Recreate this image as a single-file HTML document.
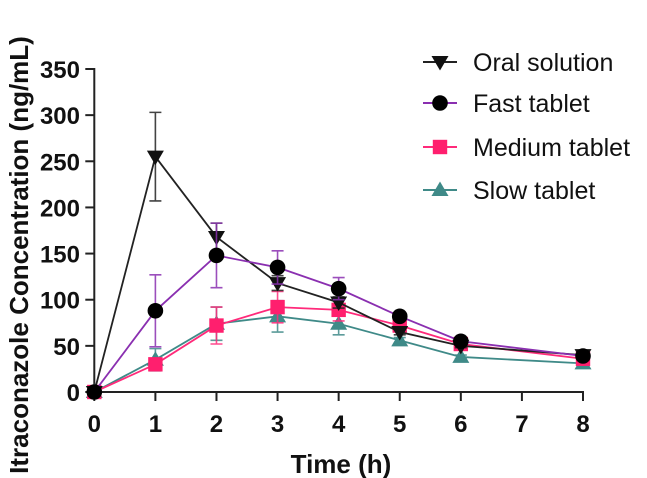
<!DOCTYPE html>
<html><head><meta charset="utf-8"><style>
body{margin:0;background:#fff;}
svg{display:block;font-family:"Liberation Sans",Arial,sans-serif;}
</style></head><body>
<svg id="chart" width="647" height="478" viewBox="0 0 647 478">
<g id="axes"></g><g id="series"></g><g id="legend"></g>
</svg>
<script>
const xTicks=[0,1,2,3,4,5,6,7,8];
const yTicks=[0,50,100,150,200,250,300,350];
const times=[0,1,2,3,4,5,6,8];
const seriesNames=["Oral solution","Fast tablet","Medium tablet","Slow tablet"];
const oralVals=[0,255,168,118,97,65,50,40];
const oralErr=[0,48,15,8,6,3,2,3];
const fastVals=[0,88,148,135,112,82,55,39];
const fastErr=[0,39,35,18,12,4,2,2];
const mediumVals=[0,30,72,92,89,72,52,36];
const mediumErr=[0,6,20,17,12,6,2,2];
const slowVals=[0,35,74,82,74,56,38,31];
const slowErr=[0,12,18,17,12,3,2,2];

const NS="http://www.w3.org/2000/svg";
const X0=94.3,X1=583,Y0=392,Y1=69;
const sx=v=>X0+(v-0)/(8-0)*(X1-X0);
const sy=v=>Y0-(v/350)*(Y0-Y1);
function mk(tag,attrs,parent){const e=document.createElementNS(NS,tag);for(const k in attrs)e.setAttribute(k,attrs[k]);parent.appendChild(e);return e;}
const axes=document.getElementById('axes'),ser=document.getElementById('series'),leg=document.getElementById('legend');

let e=mk('line',{x1:X0,y1:Y1-1,x2:X0,y2:Y0+1,stroke:'#222','stroke-width':2},axes);


e=mk('line',{x1:X0-1,y1:Y0,x2:X1+1,y2:Y0,stroke:'#222','stroke-width':2},axes);


xTicks.forEach(t=>{
  mk('line',{x1:sx(t),y1:Y0,x2:sx(t),y2:Y0+9,stroke:'#222','stroke-width':2},axes);
  const tx=mk('text',{x:sx(t),y:432,'text-anchor':'middle','font-size':24,'font-weight':'bold',fill:'#111'},axes);
  tx.textContent=t;
  
  
});
yTicks.forEach(t=>{
  mk('line',{x1:X0-9,y1:sy(t),x2:X0,y2:sy(t),stroke:'#222','stroke-width':2},axes);
  const tx=mk('text',{x:80,y:sy(t)+9,'text-anchor':'end','font-size':24,'font-weight':'bold',fill:'#111'},axes);
  tx.textContent=t;
  
  
});
e=mk('text',{x:341,y:473,'text-anchor':'middle','font-size':26,'font-weight':'bold',fill:'#111'},axes);
e.textContent='Time (h)';


e=mk('text',{x:0,y:0,'text-anchor':'middle','font-size':26,'font-weight':'bold',fill:'#111',transform:'translate(28,255) rotate(-90)'},axes);
e.textContent='Itraconazole Concentration (ng/mL)';



const allVals=[oralVals,fastVals,mediumVals,slowVals];
const allErr=[oralErr,fastErr,mediumErr,slowErr];
const lineColors=["#222","#8a2fb0","#ff2a7a","#3f8a88"];
const markColors=["#111","#000","#ff1f6e","#3f8a88"];
const shapes=["tri-down","circle","square","tri-up"];
const keys=["oral","fast","medium","slow"];
function marker(shape,cx,cy,col,parent,sz){
  if(shape==='circle')return mk('circle',{cx:cx,cy:cy,r:sz*0.78,fill:col},parent);
  if(shape==='square')return mk('rect',{x:cx-sz*0.72,y:cy-sz*0.72,width:sz*1.44,height:sz*1.44,fill:col},parent);
  if(shape==='tri-down')return mk('polygon',{points:`${cx-sz*0.85},${cy-sz*0.6} ${cx+sz*0.85},${cy-sz*0.6} ${cx},${cy+sz*0.85}`,fill:col},parent);
  return mk('polygon',{points:`${cx-sz*0.85},${cy+sz*0.6} ${cx+sz*0.85},${cy+sz*0.6} ${cx},${cy-sz*0.85}`,fill:col},parent);
}
[3,2,0,1].forEach(i=>{
  const g=mk('g',{},ser);
  
  
  const vals=allVals[i],err=allErr[i];
  times.forEach((t,j)=>{
    if(err[j]>0){
      const x=sx(t),yt=sy(vals[j]+err[j]),yb=sy(vals[j]-err[j]);
      mk('path',{d:`M${x},${yt}V${yb}M${x-6},${yt}H${x+6}M${x-6},${yb}H${x+6}`,stroke:lineColors[i],'stroke-width':1.6,fill:'none',opacity:0.85},g);
    }
  });
  const p=mk('polyline',{points:times.map((t,j)=>sx(t)+','+sy(vals[j])).join(' '),fill:'none',stroke:lineColors[i],'stroke-width':1.8},g);
  
  
  times.forEach((t,j)=>{
    const m=marker(shapes[i],sx(t),sy(vals[j]),markColors[i],g,10);
    
    
  });
});
const legY=[62,103,147,190];
seriesNames.forEach((n,i)=>{
  const g=mk('g',{},leg);
  
  
  mk('line',{x1:423,y1:legY[i],x2:457,y2:legY[i],stroke:lineColors[i],'stroke-width':2},g);
  marker(shapes[i],440,legY[i],markColors[i],g,10);
  const t=mk('text',{x:473,y:legY[i]+9,'font-size':25,fill:'#111'},g);
  t.textContent=n;
});
</script>
</body></html>
